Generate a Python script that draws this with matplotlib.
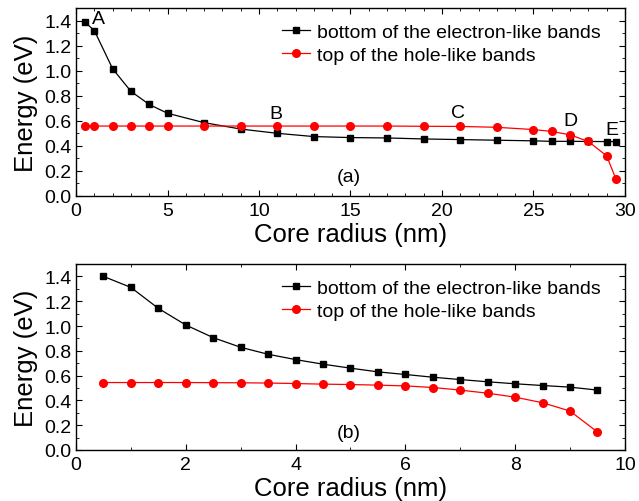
import matplotlib
matplotlib.use("Agg")
import matplotlib.pyplot as plt
from matplotlib.ticker import MultipleLocator

plt.rcParams['font.family'] = ['Liberation Sans', 'DejaVu Sans']

# panel (a)
ra = [0.5, 1, 2, 3, 4, 5, 7, 9, 11, 13, 15, 17, 19, 21, 23, 25, 26, 27, 28, 29, 29.5]
elec_a = [1.385, 1.32, 1.015, 0.835, 0.73, 0.66, 0.585, 0.534, 0.50, 0.474, 0.466,
          0.463, 0.455, 0.45, 0.445, 0.44, 0.436, 0.436, 0.435, 0.434, 0.434]
hole_a = [0.558, 0.558, 0.558, 0.558, 0.558, 0.558, 0.558, 0.558, 0.558, 0.558, 0.558,
          0.558, 0.556, 0.555, 0.548, 0.53, 0.515, 0.488, 0.435, 0.32, 0.138]

# panel (b)
rb = [0.5, 1, 1.5, 2, 2.5, 3, 3.5, 4, 4.5, 5, 5.5, 6, 6.5, 7, 7.5, 8, 8.5, 9, 9.5]
elec_b = [1.40, 1.311, 1.142, 1.008, 0.906, 0.828, 0.772, 0.729, 0.692, 0.66, 0.63,
          0.609, 0.587, 0.568, 0.55, 0.534, 0.52, 0.507, 0.483]
hole_b = [0.544, 0.544, 0.544, 0.544, 0.543, 0.542, 0.540, 0.536, 0.531, 0.528, 0.523,
          0.517, 0.504, 0.483, 0.458, 0.426, 0.381, 0.314, 0.145]

labels_a = [('A', 1.2, 1.42), ('B', 10.9, 0.66), ('C', 20.9, 0.67),
            ('D', 27.0, 0.60), ('E', 29.3, 0.53)]

fig = plt.figure(figsize=(6.39, 5.02), dpi=100)
ax1 = fig.add_axes([0.119, 0.6076, 0.859, 0.3745])
ax2 = fig.add_axes([0.119, 0.1016, 0.859, 0.3705])


def style(ax, xmax, xmaj, xmin):
    ax.set_xlim(0, xmax)
    ax.set_ylim(0, 1.5)
    ax.xaxis.set_major_locator(MultipleLocator(xmaj))
    ax.xaxis.set_minor_locator(MultipleLocator(xmin))
    ax.yaxis.set_major_locator(MultipleLocator(0.2))
    ax.yaxis.set_minor_locator(MultipleLocator(0.1))
    ax.tick_params(which='both', direction='in', top=True, right=True, labelsize=14)
    ax.tick_params(axis='x', pad=4)
    ax.tick_params(axis='y', pad=3)
    ax.tick_params(which='major', length=4)
    ax.tick_params(which='minor', length=2.5)
    ax.set_xlabel('Core radius (nm)', fontsize=18.5, labelpad=2.5)
    ax.set_ylabel('Energy (eV)', fontsize=18.5, labelpad=4.5)
    for s in ax.spines.values():
        s.set_linewidth(1.0)
    ax.legend(loc='upper right', frameon=False, fontsize=14, handlelength=1.4,
              handletextpad=0.4, labelspacing=0.25, borderaxespad=0.4,
              bbox_to_anchor=(0.985, 1.0))


ax1.plot(ra, elec_a, 'k-s', lw=0.9, ms=5, label='bottom of the electron-like bands')
ax1.plot(ra, hole_a, '-o', color='red', lw=0.9, ms=5.5, label='top of the hole-like bands')
style(ax1, 30, 5, 1)
for t, x, y in labels_a:
    ax1.text(x, y, t, fontsize=14, ha='center', va='center')
ax1.text(14.9, 0.155, '(a)', fontsize=14, ha='center', va='center')

ax2.plot(rb, elec_b, 'k-s', lw=0.9, ms=5, label='bottom of the electron-like bands')
ax2.plot(rb, hole_b, '-o', color='red', lw=0.9, ms=5.5, label='top of the hole-like bands')
style(ax2, 10, 2, 1)
ax2.text(4.97, 0.145, '(b)', fontsize=14, ha='center', va='center')

fig.savefig('out.png', dpi=100)
